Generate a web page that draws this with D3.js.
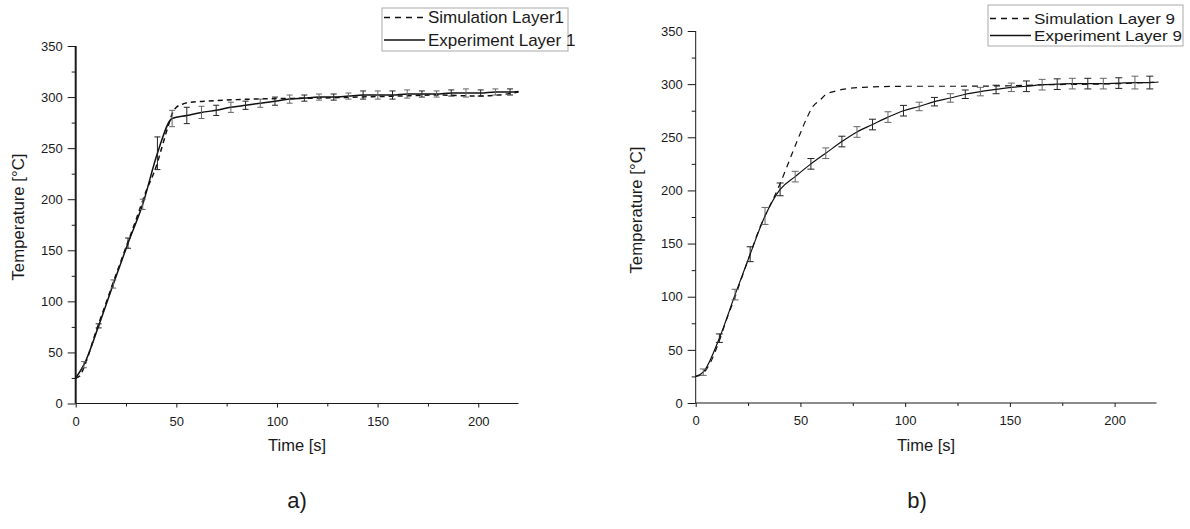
<!DOCTYPE html>
<html>
<head>
<meta charset="utf-8">
<script src="https://cdn.jsdelivr.net/npm/d3@7"></script>
<style>
  html, body { margin: 0; padding: 0; background: #fff; }
  svg { display: block; }
  text { font-family: "Liberation Sans", Arial, sans-serif; fill: #1a1a1a; }
</style>
</head>
<body>
<svg id="chart" width="1190" height="529"></svg>
<script>
// ---------- data: panel a) Layer 1 ----------
const timeA = [4.1, 11.4, 18.7, 26.0, 33.3, 40.6, 47.9, 55.2, 62.5, 69.8, 77.1, 84.4, 91.7, 99.0, 106.3, 113.6, 120.9, 128.2, 135.5, 142.8, 150.1, 157.4, 164.7, 172.0, 179.3, 186.6, 193.9, 201.2, 208.5, 215.8];
const expA  = [38, 76, 117, 157, 195, 245, 279, 282, 285, 287, 290, 292, 294, 296, 298, 299, 300, 300, 301, 302, 302, 302, 303, 303, 303, 304, 304, 304, 305, 305];
const errA  = [3, 2, 4, 5, 5, 16, 8, 8, 6, 5, 5, 4, 4, 4, 4, 3, 3, 3, 3, 4, 4, 4, 4, 3, 3, 3, 4, 3, 3, 3];
const expStartA = [0, 25];
const expEndA = [220, 305.5];
const simTimeA = [0, 2, 5, 10, 15, 20, 25, 30, 35, 40, 43, 46, 48, 50, 53, 57, 65, 80, 100, 120, 140, 160, 180, 200, 210, 220];
const simA     = [25, 27, 40, 70, 98, 126, 153, 180, 208, 232, 252, 272, 284, 290, 293, 295, 296, 297.5, 298.5, 299, 300, 301, 302, 301, 302, 305];

// ---------- data: panel b) Layer 9 ----------
const timeB = [3.6, 11.3, 18.8, 26.0, 33.1, 40.3, 47.5, 55.0, 62.1, 69.8, 77.0, 84.4, 91.8, 99.2, 106.7, 114.0, 121.6, 128.7, 135.9, 143.4, 150.7, 157.9, 165.4, 172.6, 179.8, 187.2, 194.6, 202.0, 209.7, 216.8];
const expB  = [29, 61, 102, 140, 176, 201, 213, 225, 235, 246, 255, 262, 269, 275, 279, 283.5, 287, 290.5, 293, 295, 297, 298, 299.5, 300, 300.5, 300.5, 300.5, 301, 301.5, 301.5];
const errB  = [3, 4, 5, 7, 8, 6, 5, 5, 5, 5, 5, 5, 5, 5, 4, 4, 4, 4, 4, 4, 4, 5, 5, 5, 5, 5, 5, 5, 6, 6];
const expStartB = [0, 25];
const expEndB = [221, 302];
const simTimeB = [0, 3, 7, 11, 15, 19, 22, 26, 30, 34, 37, 40, 43.5, 46.7, 50, 53, 56, 59.4, 62, 65.8, 70, 80, 100, 120, 150, 170, 190, 210, 220];
const simB     = [25, 27, 38, 57, 80, 101, 118, 140, 162, 180, 192, 205, 222, 238, 254, 268, 279, 285, 290, 293, 295, 297, 298, 298, 298.5, 299.5, 300, 301, 302];

// ---------- ticks & labels ----------
const xTicks = [0, 50, 100, 150, 200];
const xMinor = [25, 75, 125, 175];
const yTicks = [0, 50, 100, 150, 200, 250, 300, 350];
const yMinor = [25, 75, 125, 175, 225, 275, 325];
const legendA = ["Simulation Layer1", "Experiment Layer 1"];
const legendB = ["Simulation Layer 9", "Experiment Layer 9"];
const captions = ["a)", "b)"];
const xTitle = "Time [s]";
const yTitle = "Temperature [°C]";

const svg = d3.select("#chart");

function zip(xs, ys) { return xs.map((x, i) => [x, ys[i]]); }

const panels = [
  { x0: 75.7, x1: 518.5, yTop: 46, yBot: 403.5, yAxisW: 2, lineW: 1.5, dash: "5,4", cap: 3,
    sim: zip(simTimeA, simA), exp: [expStartA, ...zip(timeA, expA), expEndA],
    bars: timeA.map((t, i) => ({ t, v: expA[i], e: errA[i] })),
    legend: legendA, leg: { x: 382, y: 8, w: 186, h: 43, rows: [17.5, 40], fs: 17, lens: [null, null] },
    ytx: 24, yty: 217, cap_x: 297, caption: captions[0] },
  { x0: 695.7, x1: 1156.5, yTop: 31, yBot: 403, yAxisW: 1, lineW: 1.2, dash: "6,5", cap: 3.5,
    sim: zip(simTimeB, simB), exp: [expStartB, ...zip(timeB, expB), expEndB],
    bars: timeB.map((t, i) => ({ t, v: expB[i], e: errB[i] })),
    legend: legendB, leg: { x: 988, y: 5, w: 195, h: 41, rows: [18.5, 35.5], fs: 15, lens: [141, 148] },
    ytx: 642, yty: 210, cap_x: 917, caption: captions[1] }
];

panels.forEach(p => {
  const x = d3.scaleLinear().domain([0, 220]).range([p.x0, p.x1]);
  const y = d3.scaleLinear().domain([0, 350]).range([p.yBot, p.yTop]);
  const g = svg.append("g");

  // x axis
  const xa = g.append("g").attr("transform", `translate(0,${p.yBot})`)
    .call(d3.axisBottom(x).tickValues(xTicks).tickSize(4).tickPadding(9).tickFormat(d3.format("d")));
  g.append("g").attr("transform", `translate(0,${p.yBot})`)
    .call(d3.axisBottom(x).tickValues(xMinor).tickSize(3).tickFormat(""))
    .select(".domain").remove();
  xa.select(".domain").attr("d", `M${p.x0},0H${p.x1}`).attr("stroke-width", 1.2);

  // y axis
  const ya = g.append("g").attr("transform", `translate(${p.x0},0)`)
    .call(d3.axisLeft(y).tickValues(yTicks).tickSize(8).tickPadding(5).tickFormat(d3.format("d")));
  g.append("g").attr("transform", `translate(${p.x0},0)`)
    .call(d3.axisLeft(y).tickValues(yMinor).tickSize(4).tickFormat(""))
    .select(".domain").remove();
  ya.select(".domain").attr("d", `M0,${p.yTop}V${p.yBot}`).attr("stroke-width", p.yAxisW);

  g.selectAll(".tick text").attr("font-size", 13).attr("fill", "#1a1a1a")
    .attr("font-family", '"Liberation Sans", Arial, sans-serif');
  g.selectAll(".tick line").attr("stroke", "#1a1a1a");
  g.selectAll(".domain").attr("stroke", "#1a1a1a");

  // axis titles
  g.append("text").attr("x", (p.x0 + p.x1) / 2).attr("y", 451)
    .attr("text-anchor", "middle").attr("font-size", 16.5).text(xTitle);
  g.append("text").attr("transform", `translate(${p.ytx},${p.yty}) rotate(-90)`)
    .attr("text-anchor", "middle").attr("font-size", 16.8).text(yTitle);

  // simulation (dashed)
  const line = d3.line().x(d => x(d[0])).y(d => y(d[1])).curve(d3.curveMonotoneX);
  g.append("path").datum(p.sim).attr("d", line).attr("fill", "none")
    .attr("stroke", "#111").attr("stroke-width", p.lineW).attr("stroke-dasharray", p.dash);

  // experiment (solid)
  g.append("path").datum(p.exp).attr("d", line).attr("fill", "none")
    .attr("stroke", "#111").attr("stroke-width", p.lineW);

  // error bars
  const eb = g.append("g").selectAll("g").data(p.bars).join("g")
    .attr("stroke", (d, i) => i % 2 ? "#222" : "#666").attr("stroke-width", 1);
  eb.append("line").attr("x1", d => x(d.t)).attr("x2", d => x(d.t))
    .attr("y1", d => y(d.v - d.e)).attr("y2", d => y(d.v + d.e));
  eb.append("line").attr("x1", d => x(d.t) - p.cap).attr("x2", d => x(d.t) + p.cap)
    .attr("y1", d => y(d.v + d.e)).attr("y2", d => y(d.v + d.e));
  eb.append("line").attr("x1", d => x(d.t) - p.cap).attr("x2", d => x(d.t) + p.cap)
    .attr("y1", d => y(d.v - d.e)).attr("y2", d => y(d.v - d.e));

  // legend
  const L = p.leg;
  g.append("rect").attr("x", L.x).attr("y", L.y).attr("width", L.w).attr("height", L.h)
    .attr("fill", "#fff").attr("stroke", "#aaa").attr("stroke-width", 1);
  p.legend.forEach((txt, i) => {
    const ry = L.rows[i];
    g.append("line").attr("x1", L.x + 2).attr("x2", L.x + 43).attr("y1", ry).attr("y2", ry)
      .attr("stroke", "#111").attr("stroke-width", 1.5)
      .attr("stroke-dasharray", i === 0 ? "6,5" : null);
    const t = g.append("text").attr("x", L.x + 46).attr("y", ry + L.fs * 0.35)
      .attr("font-size", L.fs).text(txt);
    if (L.lens[i]) t.attr("textLength", L.lens[i]).attr("lengthAdjust", "spacingAndGlyphs");
  });

  // caption
  svg.append("text").attr("x", p.cap_x).attr("y", 508).attr("text-anchor", "middle")
    .attr("font-family", '"Liberation Serif", "Times New Roman", serif')
    .attr("font-size", 22).text(p.caption);
});
</script>
</body>
</html>
